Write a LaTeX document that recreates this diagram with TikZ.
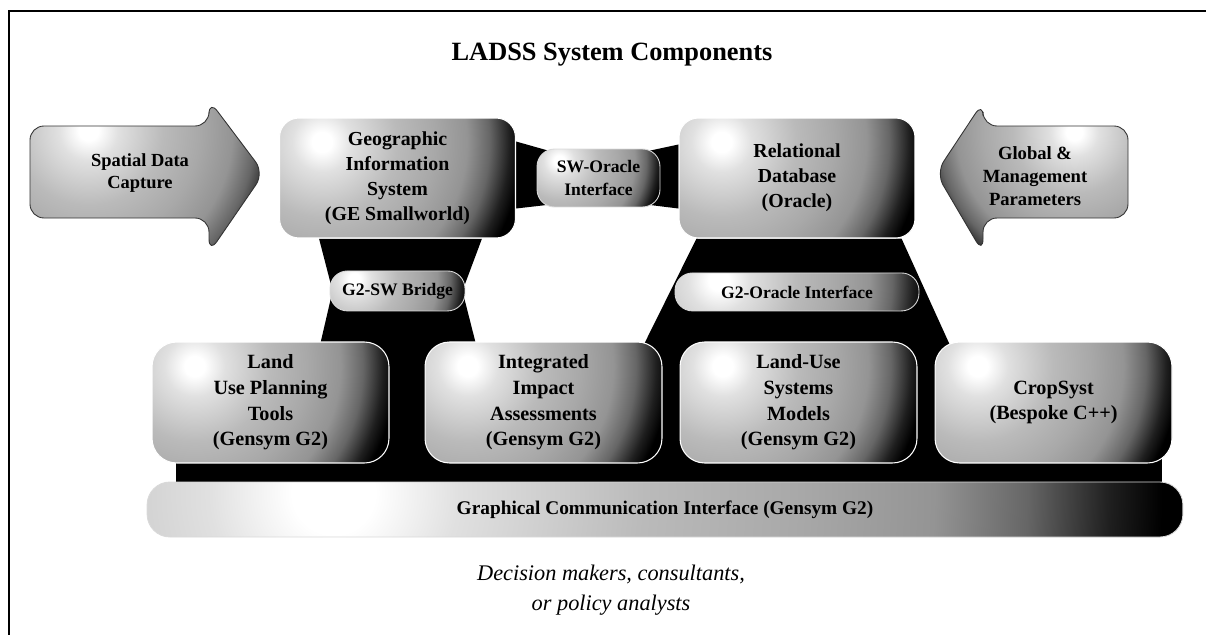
\documentclass[tikz,border=0pt]{standalone}
\usepackage{fontspec}
\setmainfont{Liberation Serif}
\usetikzlibrary{positioning,calc,backgrounds}

\pgfdeclareradialshading{glare}{\pgfpoint{0bp}{0bp}}{color(0bp)=(white); color(4bp)=(white); color(12bp)=(black!12);
  color(30bp)=(black!27); color(45bp)=(black!34); color(58bp)=(black!42); color(67bp)=(black!60); color(75bp)=(black!88);
  color(80bp)=(black); color(150bp)=(black)}

\tikzset{
  glare size/.store in=\glaresize, glare size=1.06,
  glossy/.style={path picture={
    \pgfpointanchor{path picture bounding box}{north west}\pgfgetlastxy{\glx}{\gly}
    \pgfpointanchor{path picture bounding box}{south east}\pgfgetlastxy{\grx}{\gry}
    \pgfmathsetmacro\glw{\grx-\glx}
    \pgfmathsetmacro\glcx{\glx+#1*\glw}
    \pgfmathsetmacro\glcy{\gly-0.2*(\gly-\gry)}
    \pgfmathsetmacro\gls{\glaresize*\glw/100.375}
    \pgftransformshift{\pgfpoint{\glcx pt}{\glcy pt}}
    \pgftransformscale{\gls}
    \pgflowlevelsynccm
    \pgfuseshading{glare}}},
  glossy/.default=0.18
}

\begin{document}
\begin{tikzpicture}[x=0.02cm,y=-0.02cm,
    sysbox/.style={glossy,draw=white,line width=0.6pt,rounded corners=11pt,minimum width=4.72cm,minimum height=2.4cm,
      inner sep=0pt,align=center,font=\fontsize{11.3}{14.2}\selectfont\bfseries},
    link/.style={glossy,draw=white!85!black,line width=0.5pt,rounded corners=10pt,inner sep=0pt,align=center,
      font=\fontsize{10}{13.6}\selectfont\bfseries},
    unit/.style={glossy,draw=white,line width=0.6pt,rounded corners=14pt,minimum width=4.74cm,minimum height=2.42cm,
      inner sep=0pt,align=center,font=\fontsize{11.5}{14.6}\selectfont\bfseries},
    bus/.style={glare size=1.0,glossy,draw=white!85!black,line width=0.5pt,rounded corners=13pt,minimum width=20.72cm,minimum height=1.1cm,
      inner sep=0pt,font=\fontsize{11}{13}\selectfont\bfseries},
    feed/.style={draw=black!80,line width=0.5pt,rounded corners=8pt},
    feedtext/.style={align=center,font=\fontsize{10.5}{12.4}\selectfont\bfseries}]
  \useasboundingbox (0,0) rectangle (1206,635);
  \draw[line width=0.8pt] (9,635) -- (9,11) -- (1206,11);

  \node[font=\fontsize{15}{18}\selectfont\bfseries] (title) at (612,55) {LADSS System Components};

  % data sources
  \draw[feed,glossy=0.25] (30,126) -- (209,126) -- (209,100) -- (264,173) -- (209,253) -- (209,218) -- (30,218) -- cycle;
  \draw[feed,glossy=0.72] (1128,126) -- (983,126) -- (983,102) -- (936,173) -- (983,253) -- (983,218) -- (1128,218) -- cycle;
  \node[feedtext] (sdc) at (140,173) {Spatial Data\\Capture};
  \node[feedtext,font=\fontsize{10.6}{13.2}\selectfont\bfseries] (gmp) at (1035,176) {Global \&\\Management\\Parameters};

  % GIS and database
  \node[sysbox] (gis) at (397.5,178) {Geographic\\Information\\System\\(GE Smallworld)};
  \node[sysbox] (db) at (797,178) {Relational\\Database\\(Oracle)};
  \node[link,minimum width=2.46cm,minimum height=1.16cm] (swo) at (598.5,178) {SW-Oracle\\Interface};
  \node[link,minimum width=2.7cm,minimum height=0.8cm] (g2sw) [below=0.64cm of gis] {G2-SW Bridge};
  \node[link,minimum width=4.88cm,minimum height=0.76cm] (g2o) [below=0.68cm of db] {G2-Oracle Interface};

  % G2 models
  \node[unit] (lu) at (270.5,402.5) {Land\\Use Planning\\Tools\\(Gensym G2)};
  \node[unit] (iia) [right=0.7cm of lu] {Integrated\\Impact\\Assessments\\(Gensym G2)};
  \node[unit] (lus) [right=0.34cm of iia] {Land-Use\\Systems\\Models\\(Gensym G2)};
  \node[unit] (crop) [right=0.34cm of lus] {CropSyst\\(Bespoke C++)};
  \node[bus] (gci) at (665,509.5) {Graphical Communication Interface (Gensym G2)};

  \node[align=center,font=\fontsize{12.7}{17}\selectfont\itshape] (users) at (611,590) {Decision makers, consultants,\\or policy analysts};

  % black links behind the boxes
  \begin{scope}[on background layer]
    \fill ($(gis.north east)+(0,24)$) -- ($(swo.north west)+(15,3)$) -- ($(swo.south west)+(15,-3)$) -- ($(gis.south east)+(0,-30)$) -- cycle;
    \fill ($(swo.north east)+(-15,3)$) -- ($(db.north west)+(0,27)$) -- ($(db.south west)+(0,-30)$) -- ($(swo.south east)+(-15,-3)$) -- cycle;
    \fill ($(gis.south west)+(40,0)$) -- ($(g2sw.west)+(3,0)$) -- ($(g2sw.south west)+(-18,70)$)
      -- ($(g2sw.south east)+(20,70)$) -- ($(g2sw.east)+(-3,0)$) -- ($(gis.south east)+(-34,0)$) -- cycle;
    \fill ($(db.south west)+(18,0)$) -- ($(g2o.south west)+(-49,70)$) -- ($(g2o.south east)+(47,70)$) -- ($(db.south east)+(-14,0)$) -- cycle;
    \fill ($(lu.south west)+(25,-83)$) rectangle ($(crop.south east)+(-11,27)$);
  \end{scope}
\end{tikzpicture}
\end{document}
